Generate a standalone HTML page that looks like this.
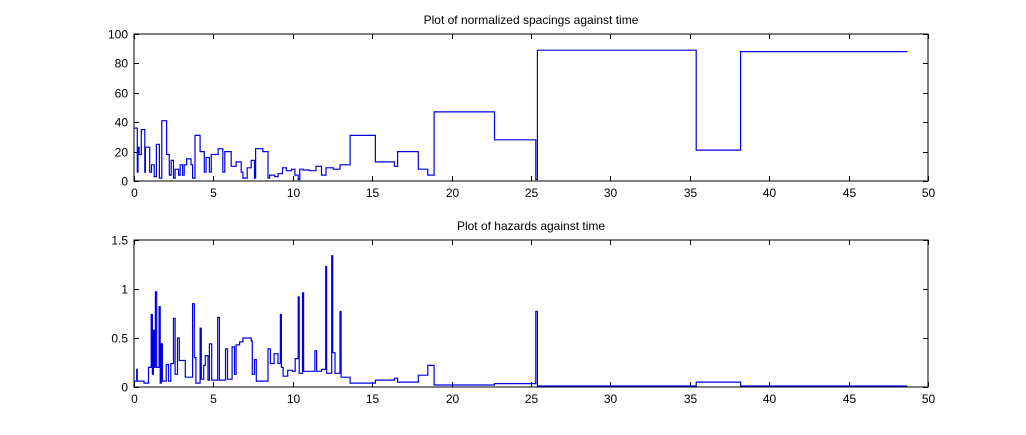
<!DOCTYPE html>
<html><head><meta charset="utf-8"><style>
html,body{margin:0;padding:0;background:#fff;}
svg{display:block;font-family:"Liberation Sans",Arial,sans-serif;}
</style></head><body>
<svg id="chart" width="1026" height="435"></svg>
<script>
// Top: normalized spacings (stairs)
const spacingTimes=[0,0.21,0.25,0.32,0.46,0.68,0.72,0.99,1.10,1.27,1.41,1.60,1.75,2.05,2.22,2.34,2.49,2.59,2.81,2.91,3.06,3.16,3.31,3.59,3.69,3.84,4.16,4.43,4.54,4.75,4.87,5.30,5.59,5.72,6.12,6.43,6.75,6.86,7.13,7.38,7.59,7.66,8.12,8.44,8.54,8.86,9.07,9.35,9.60,9.92,10.13,10.34,10.44,10.65,11.03,11.46,11.81,12.09,12.55,12.97,13.61,15.2,16.4,16.6,17.9,18.5,18.9,22.7,25.3,25.4,35.4,38.2,48.7];
const spacingValues=[36,6,23,18,35,6,23,6,11,3,25,2,41,18,4,14,2,8,4,11,4,11,15,11,2,31,20,6,16,6,18,22,6,20,10,13,6,2,9,14,2,22,20,2,4,3,5,9,7,8,4,1,8,7.5,7,10,4,9,8,11,31,13,10,20,8,4,47,28,1,89,21,88,88];
// Bottom: hazards (stairs)
const hazardTimes=[0,0.17,0.21,0.63,0.91,1.08,1.16,1.22,1.29,1.35,1.43,1.58,1.65,1.71,1.79,2.03,2.17,2.32,2.49,2.59,2.74,2.85,3.23,3.69,3.80,3.90,4.16,4.24,4.39,4.49,4.66,4.75,4.89,5.27,5.38,5.76,5.89,6.18,6.33,6.43,6.65,6.86,7.38,7.45,7.59,7.70,8.44,8.59,8.82,9.07,9.22,9.28,9.39,9.68,9.98,10.15,10.34,10.40,10.61,10.68,11.39,11.50,11.81,12.07,12.13,12.45,12.51,12.66,12.97,13.04,13.61,15.2,16.4,16.6,17.9,18.5,18.9,22.7,25.3,25.4,35.4,38.2,48.7];
const hazardValues=[0.06,0.18,0.06,0.04,0.2,0.74,0.13,0.58,0.2,0.97,0.2,0.82,0.04,0.44,0.06,0.23,0.06,0.24,0.7,0.13,0.5,0.27,0.1,0.85,0.3,0.04,0.6,0.08,0.22,0.32,0.07,0.44,0.07,0.71,0.07,0.39,0.08,0.41,0.13,0.43,0.46,0.5,0.47,0.13,0.28,0.06,0.39,0.24,0.34,0.24,0.74,0.2,0.11,0.17,0.16,0.29,0.92,0.14,0.96,0.16,0.37,0.16,0.18,1.23,0.14,1.34,0.35,0.14,0.77,0.1,0.04,0.07,0.09,0.05,0.12,0.22,0.02,0.035,0.77,0.01,0.05,0.01,0.01];
const xTicks=[0,5,10,15,20,25,30,35,40,45,50];
const topYTicks=[0,20,40,60,80,100];
const botYTicks=[0,0.5,1,1.5];

const NS="http://www.w3.org/2000/svg";
const svg=document.getElementById('chart');
function mk(tag,attrs,parent){const e=document.createElementNS(NS,tag);for(const k in attrs)e.setAttribute(k,attrs[k]);(parent||svg).appendChild(e);return e;}

function panel(name,top,bottom,ymax,yTicks,times,values,title,fmt){
  const L=134,R=928;
  const g=mk('g',{});
  
  
  const xs=t=>L+(t/50)*(R-L);
  const ys=v=>bottom-(v/ymax)*(bottom-top);
  const box=mk('rect',{x:L,y:top,width:R-L,height:bottom-top,fill:'#fff',stroke:'#000','stroke-width':1},g);
  
  
  xTicks.forEach(t=>{
    const x=Math.round(xs(t))+0.5;
    mk('line',{x1:x,y1:bottom,x2:x,y2:bottom-5,stroke:'#000'},g);
    mk('line',{x1:x,y1:top,x2:x,y2:top+5,stroke:'#000'},g);
    const tx=mk('text',{x:x,y:bottom+16,'font-size':12,'text-anchor':'middle'},g);
    tx.textContent=t;
    
    
  });
  yTicks.forEach(v=>{
    const y=Math.round(ys(v))+0.5;
    mk('line',{x1:L,y1:y,x2:L+5,y2:y,stroke:'#000'},g);
    mk('line',{x1:R,y1:y,x2:R-5,y2:y,stroke:'#000'},g);
    const tx=mk('text',{x:L-6,y:y+4,'font-size':12,'text-anchor':'end'},g);
    tx.textContent=fmt(v);
    
    
  });
  let d='';
  for(let i=0;i<times.length-1;i++){
    const x0=xs(times[i]),x1=xs(times[i+1]),y=ys(values[i]);
    d+=(i===0?'M':'L')+x0.toFixed(1)+','+y.toFixed(1)+'L'+x1.toFixed(1)+','+y.toFixed(1);
  }
  const p=mk('path',{d:d,fill:'none',stroke:'#0000e0','stroke-width':1.2},g);
  
  
  const tt=mk('text',{x:531,y:top-10,'font-size':12,'text-anchor':'middle'},g);
  tt.textContent=title;
  
  
}
panel('spacings',34,181,100,topYTicks,spacingTimes,spacingValues,'Plot of normalized spacings against time',v=>String(v));
panel('hazards',240,387,1.5,botYTicks,hazardTimes,hazardValues,'Plot of hazards against time',v=>String(v));
</script>
</body></html>
